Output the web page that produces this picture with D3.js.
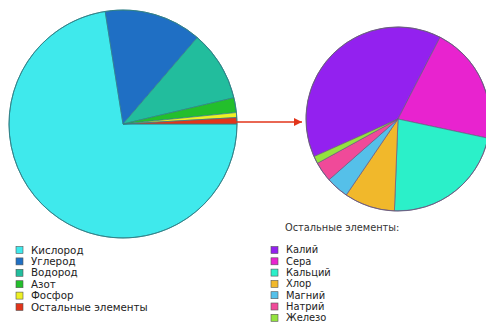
<!DOCTYPE html>
<html><head><meta charset="utf-8">
<script src="https://cdn.jsdelivr.net/npm/d3@7"></script>
<style>body{margin:0;background:#fff;}svg{display:block;}</style>
</head><body>
<script>
const mainLabels = ["Кислород","Углерод","Водород","Азот","Фосфор","Остальные элементы"];
const mainValues = [72.5, 13.8, 10.0, 2.1, 0.7, 0.9];
const mainColors = ["#3fe9ec","#1f6fc4","#22bd9d","#23bf2c","#eef024","#e2341a"];

const otherTitle = "Остальные элементы:";
const otherLabels = ["Калий","Сера","Кальций","Хлор","Магний","Натрий","Железо"];
const otherValues = [39.3, 20.8, 22.3, 8.9, 4.0, 3.5, 1.3];
const otherColors = ["#9321ef","#e823cf","#2bf0c9","#f1b82b","#55c0e9","#f04a99","#93e33f"];

const W = 486, H = 327;
const svg = d3.select("body").append("svg").attr("width", W).attr("height", H);
const font = "'DejaVu Sans', Verdana, sans-serif";

function drawPie(values, colors, cx, cy, r, startDeg, strokeCol) {
  const pie = d3.pie().sort(null)
    .startAngle(startDeg * Math.PI / 180)
    .endAngle(startDeg * Math.PI / 180 + 2 * Math.PI);
  const arc = d3.arc().innerRadius(0).outerRadius(r);
  const g = svg.append("g").attr("transform", `translate(${cx},${cy})`);
  g.selectAll("path").data(pie(values)).join("path")
    .attr("d", arc)
    .attr("fill", (d, i) => colors[i])
    .attr("stroke", strokeCol)
    .attr("stroke-width", 0.7)
    .attr("stroke-linejoin", "round");
  g.append("circle").attr("r", r).attr("fill", "none")
    .attr("stroke", strokeCol).attr("stroke-width", 0.9);
}

drawPie(mainValues, mainColors, 123, 124, 114, 90, "#2f7f86");
drawPie(otherValues, otherColors, 398, 119, 92, 245.9, "#6a5a80");

// arrow
const defs = svg.append("defs");
defs.append("marker").attr("id", "ah").attr("viewBox", "0 0 10 10")
  .attr("refX", 10).attr("refY", 5).attr("markerWidth", 17).attr("markerHeight", 8)
  .attr("markerUnits", "userSpaceOnUse").attr("orient", "auto")
  .append("path").attr("d", "M0,0 L10,5 L0,10 Z").attr("fill", "#e2341a");
svg.append("line").attr("x1", 236).attr("y1", 122).attr("x2", 302).attr("y2", 122)
  .attr("stroke", "#e2341a").attr("stroke-width", 1.6).attr("marker-end", "url(#ah)");

function legend(labels, colors, x, y0, step, fs) {
  const g = svg.append("g");
  const rows = g.selectAll("g").data(labels).join("g")
    .attr("transform", (d, i) => `translate(${x},${y0 + i * step})`);
  rows.append("rect").attr("x", 0).attr("y", -3.5).attr("width", 7).attr("height", 7)
    .attr("fill", (d, i) => colors[i]).attr("stroke", "#555").attr("stroke-width", 0.6);
  rows.append("text").attr("x", 15).attr("y", 0).attr("dy", "0.35em")
    .attr("font-family", font).attr("font-size", fs).attr("fill", "#222").text(d => d);
}
legend(mainLabels, mainColors, 16, 250, 11.4, 10.3);
svg.append("text").attr("x", 285).attr("y", 228).attr("dy", "0.35em")
  .attr("font-family", font).attr("font-size", 9.8).attr("fill", "#333").text(otherTitle);
legend(otherLabels, otherColors, 271, 250, 11.3, 9.9);
</script>
</body></html>
